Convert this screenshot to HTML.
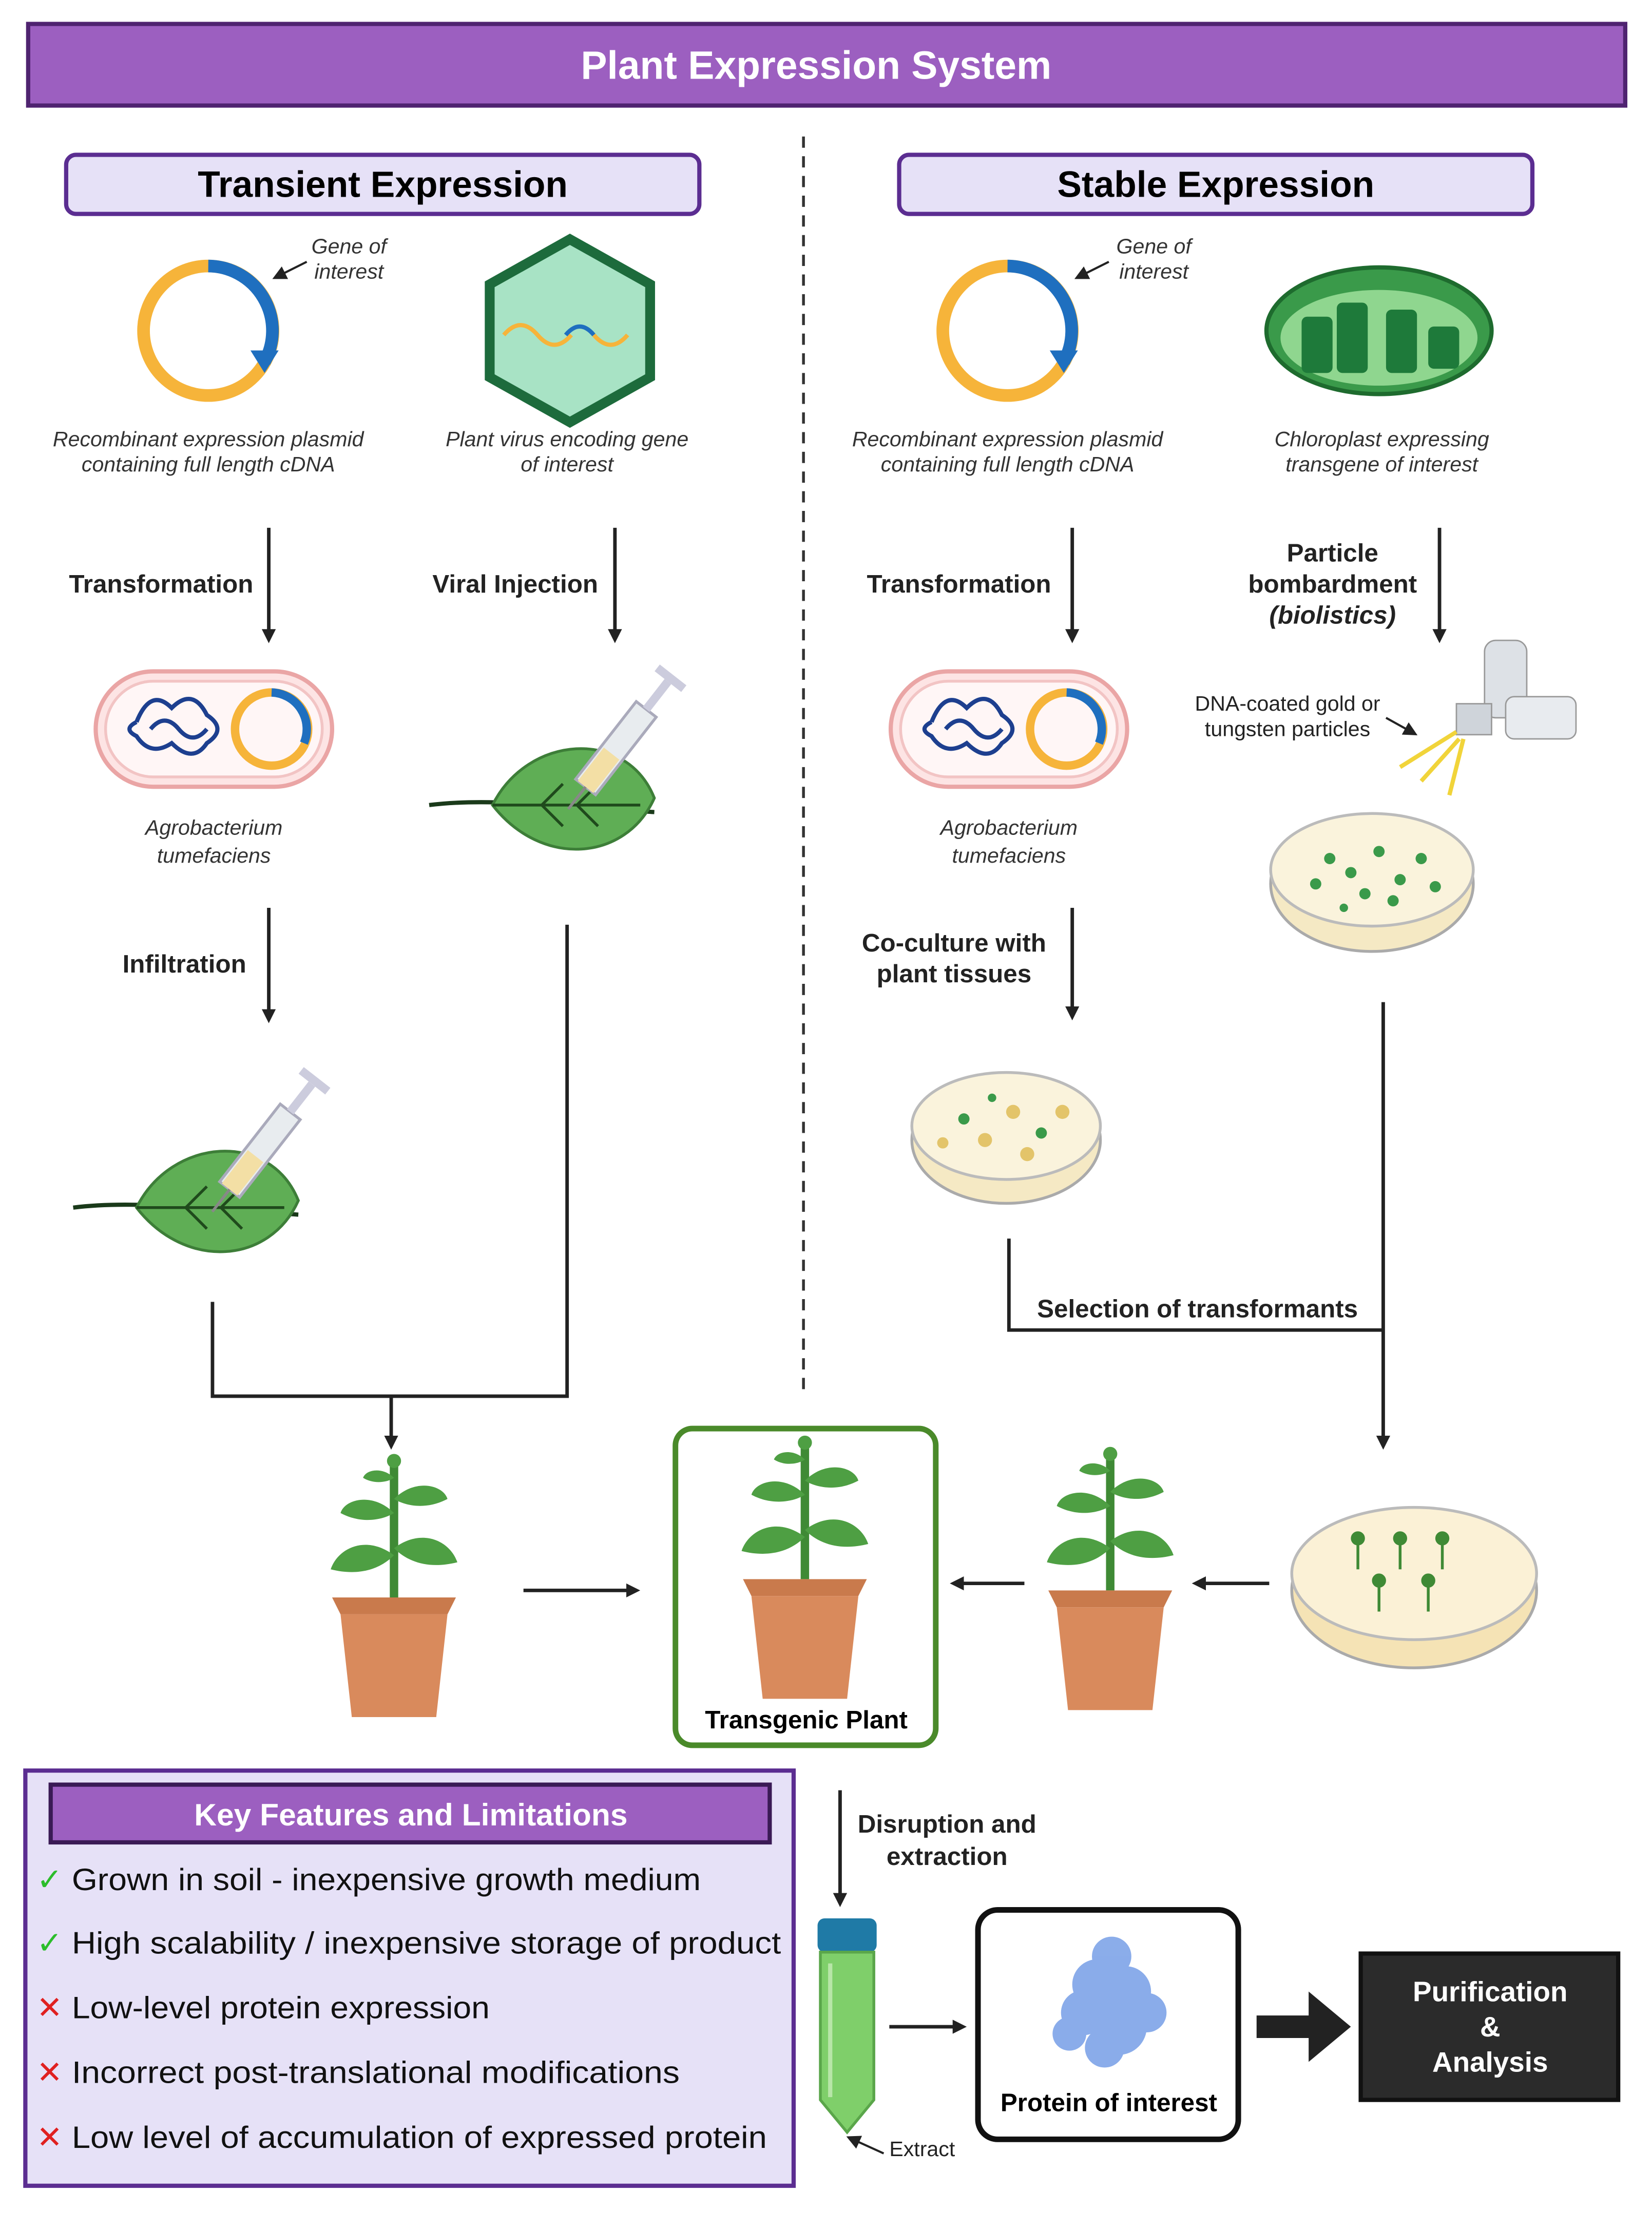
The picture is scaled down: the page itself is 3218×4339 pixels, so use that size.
<!DOCTYPE html>
<html><head><meta charset="utf-8"><style>html,body{margin:0;padding:0;background:#fff}svg{display:block}text{font-family:"Liberation Sans",sans-serif}</style></head>
<body>
<svg xmlns="http://www.w3.org/2000/svg" width="3218" height="4339" viewBox="0 0 1174 1583">
<defs>
<marker id="ah" markerWidth="10" markerHeight="10" refX="5" refY="5" orient="auto" markerUnits="userSpaceOnUse"><path d="M0,0 L10,5 L0,10 z" fill="#222"/></marker>
<g id="plasmid"><circle r="46" fill="none" stroke="#f6b43a" stroke-width="9"/><path d="M0,-46 A46,46 0 0 1 40,22" fill="none" stroke="#1f6fbf" stroke-width="9"/><path d="M30,14 L50,14 L40,30 z" fill="#1f6fbf"/></g>
<g id="agro"><rect x="-84" y="-41" width="168" height="82" rx="41" fill="#fde4e4" stroke="#eaa5a5" stroke-width="3"/><rect x="-77" y="-34" width="154" height="68" rx="34" fill="#fff6f6" stroke="#f2c4c4" stroke-width="2"/><circle cx="41" cy="0" r="26" fill="none" stroke="#f6b43a" stroke-width="6"/><path d="M41,-26 A26,26 0 0 1 64,10" fill="none" stroke="#1f6fbf" stroke-width="6"/><path d="M-55,-5 q10,-25 25,-10 q15,-15 25,5 q15,10 0,20 q-10,15 -25,0 q-15,10 -25,-5 q-10,-5 0,-10" fill="none" stroke="#1d3f8f" stroke-width="3"/><path d="M-45,0 q10,-12 20,0 q10,12 20,0" fill="none" stroke="#1d3f8f" stroke-width="3"/></g>
<g id="leafsyr"><path d="M-80,0 C-40,-5 0,0 80,5" stroke="#1a3a1a" stroke-width="3" fill="none"/><path d="M-35,0 C-10,-50 60,-55 80,-5 C60,40 0,45 -35,0 z" fill="#5fae55" stroke="#3d7e38" stroke-width="2"/><path d="M-35,0 L70,0 M0,0 l15,-15 M25,0 l15,-15 M0,0 l15,15 M25,0 l15,15" stroke="#1f4a1c" stroke-width="2" fill="none"/><g transform="translate(25,-5) rotate(-52)"><rect x="10" y="-9" width="70" height="18" fill="#e8ecef" stroke="#aab" stroke-width="2"/><rect x="10" y="-7" width="30" height="14" fill="#f3dfa5"/><rect x="80" y="-3" width="25" height="6" fill="#ccd"/><rect x="105" y="-12" width="6" height="24" fill="#ccd"/><line x1="-10" y1="0" x2="10" y2="0" stroke="#888" stroke-width="2"/></g></g>
<g id="plant"><path d="M0,0 L0,-95" stroke="#3f8a35" stroke-width="6"/><path d="M0,-30 c-20,-15 -40,-5 -45,10 c20,5 35,0 45,-10z M0,-35 c20,-15 40,-5 45,10 c-20,5 -35,0 -45,-10z M0,-60 c-15,-15 -35,-10 -38,0 c15,8 30,5 38,0z M0,-70 c15,-15 35,-10 38,0 c-15,8 -30,5 -38,0z M0,-85 c-8,-8 -20,-6 -22,0 c8,5 18,3 22,0z" fill="#4e9f43"/><circle cx="0" cy="-97" r="5" fill="#4e9f43"/><path d="M-44,0 L44,0 L38,12 L-38,12z" fill="#c97a4c"/><path d="M-38,12 L38,12 L30,85 L-30,85z" fill="#d98a5c"/></g>
</defs>

<rect x="20" y="17" width="1135" height="58" fill="#9c5fc0" stroke="#4f2370" stroke-width="3"/>
<text x="580" y="56" font-size="28" font-weight="bold" fill="#fff" text-anchor="middle">Plant Expression System</text>
<line x1="571" y1="97" x2="571" y2="990" stroke="#333" stroke-width="2" stroke-dasharray="8,6"/>

<rect x="47" y="110" width="450" height="42" rx="7" fill="#e6e1f7" stroke="#5b2d91" stroke-width="3"/>
<text x="272" y="140" font-size="26" font-weight="bold" text-anchor="middle">Transient Expression</text>
<rect x="639" y="110" width="450" height="42" rx="7" fill="#e6e1f7" stroke="#5b2d91" stroke-width="3"/>
<text x="864" y="140" font-size="26" font-weight="bold" text-anchor="middle">Stable Expression</text>

<g font-style="italic" font-size="15" fill="#333" text-anchor="middle">
<use href="#plasmid" x="148" y="235"/><use href="#plasmid" x="716" y="235"/>
<text x="248" y="180">Gene of</text><text x="248" y="198">interest</text>
<text x="820" y="180">Gene of</text><text x="820" y="198">interest</text>
<path d="M218,186 L198,196" stroke="#222" stroke-width="1.5" marker-end="url(#ah)"/>
<path d="M788,186 L768,196" stroke="#222" stroke-width="1.5" marker-end="url(#ah)"/>
<polygon points="405,170 462,202 462,268 405,300 348,268 348,202" fill="#a8e3c5" stroke="#1d6b3c" stroke-width="7"/>
<path d="M358,238 q12,-14 24,0 q12,14 24,0" stroke="#f6b43a" stroke-width="3" fill="none"/><path d="M402,238 q10,-12 20,0" stroke="#1f6fbf" stroke-width="3" fill="none"/><path d="M422,238 q12,14 24,0" stroke="#f6b43a" stroke-width="3" fill="none"/>
<ellipse cx="980" cy="235" rx="80" ry="45" fill="#3a9a4a" stroke="#1e6b2e" stroke-width="3"/><ellipse cx="980" cy="240" rx="70" ry="34" fill="#8fd68f"/>
<g fill="#1e7a3a"><rect x="925" y="225" width="22" height="40" rx="4"/><rect x="950" y="215" width="22" height="50" rx="4"/><rect x="985" y="220" width="22" height="45" rx="4"/><rect x="1015" y="232" width="22" height="30" rx="4"/></g>
<text x="148" y="317">Recombinant expression plasmid</text><text x="148" y="335">containing full length cDNA</text>
<text x="403" y="317">Plant virus encoding gene</text><text x="403" y="335">of interest</text>
<text x="716" y="317">Recombinant expression plasmid</text><text x="716" y="335">containing full length cDNA</text>
<text x="982" y="317">Chloroplast expressing</text><text x="982" y="335">transgene of interest</text>
<text x="152" y="593">Agrobacterium</text><text x="152" y="613">tumefaciens</text>
<text x="717" y="593">Agrobacterium</text><text x="717" y="613">tumefaciens</text>
</g>

<g stroke="#222" stroke-width="2.5" fill="none" marker-end="url(#ah)">
<line x1="191" y1="375" x2="191" y2="452"/><line x1="437" y1="375" x2="437" y2="452"/>
<line x1="762" y1="375" x2="762" y2="452"/><line x1="1023" y1="375" x2="1023" y2="452"/>
<line x1="191" y1="645" x2="191" y2="722"/><line x1="762" y1="645" x2="762" y2="720"/>
<line x1="278" y1="992" x2="278" y2="1025"/><line x1="983" y1="712" x2="983" y2="1025"/>
<line x1="372" y1="1130" x2="450" y2="1130"/><line x1="728" y1="1125" x2="680" y2="1125"/><line x1="902" y1="1125" x2="852" y2="1125"/>
<line x1="597" y1="1272" x2="597" y2="1350"/><line x1="632" y1="1440" x2="682" y2="1440"/>
</g>
<g stroke="#222" stroke-width="2.5" fill="none">
<path d="M151,925 L151,992 L403,992 L403,657"/>
<path d="M717,880 L717,945 L983,945"/>
</g>

<g font-size="18" font-weight="bold" fill="#222">
<text x="180" y="421" text-anchor="end">Transformation</text>
<text x="425" y="421" text-anchor="end">Viral Injection</text>
<text x="747" y="421" text-anchor="end">Transformation</text>
<text x="947" y="399" text-anchor="middle">Particle</text><text x="947" y="421" text-anchor="middle">bombardment</text><text x="947" y="443" text-anchor="middle" font-style="italic">(biolistics)</text>
<text x="175" y="691" text-anchor="end">Infiltration</text>
<text x="678" y="676" text-anchor="middle">Co-culture with</text><text x="678" y="698" text-anchor="middle">plant tissues</text>
<text x="851" y="936" text-anchor="middle">Selection of transformants</text>
<text x="673" y="1302" text-anchor="middle">Disruption and</text><text x="673" y="1325" text-anchor="middle">extraction</text>
</g>

<use href="#agro" x="152" y="518"/><use href="#agro" x="717" y="518"/>
<use href="#leafsyr" x="385" y="572"/><use href="#leafsyr" x="132" y="858"/>

<g transform="translate(1070,495)"><rect x="-15" y="-40" width="30" height="55" rx="8" fill="#dde1e6" stroke="#999"/><rect x="0" y="0" width="50" height="30" rx="6" fill="#e8ebef" stroke="#999"/><rect x="-35" y="5" width="25" height="22" fill="#cfd4da" stroke="#999"/><path d="M-35,25 L-75,50 M-33,30 L-60,60 M-30,30 L-40,70" stroke="#f1d43a" stroke-width="3"/></g>
<text x="915" y="505" font-size="15" text-anchor="middle" fill="#222">DNA-coated gold or</text>
<text x="915" y="523" font-size="15" text-anchor="middle" fill="#222">tungsten particles</text>
<path d="M985,510 L1003,520" stroke="#222" stroke-width="1.5" marker-end="url(#ah)"/>

<g>
<ellipse cx="975" cy="628" rx="72" ry="48" fill="#f5e9c4" stroke="#aaa" stroke-width="2"/><ellipse cx="975" cy="618" rx="72" ry="40" fill="#faf3dc" stroke="#bbb" stroke-width="2"/>
<g fill="#3a9a4a"><circle cx="945" cy="610" r="4"/><circle cx="960" cy="620" r="4"/><circle cx="980" cy="605" r="4"/><circle cx="995" cy="625" r="4"/><circle cx="1010" cy="610" r="4"/><circle cx="970" cy="635" r="4"/><circle cx="1020" cy="630" r="4"/><circle cx="935" cy="628" r="4"/><circle cx="990" cy="640" r="4"/><circle cx="955" cy="645" r="3"/></g>
<ellipse cx="715" cy="810" rx="67" ry="45" fill="#f5e9c4" stroke="#aaa" stroke-width="2"/><ellipse cx="715" cy="800" rx="67" ry="38" fill="#faf3dc" stroke="#bbb" stroke-width="2"/>
<g><circle cx="685" cy="795" r="4" fill="#3a9a4a"/><circle cx="700" cy="810" r="5" fill="#e3c46a"/><circle cx="720" cy="790" r="5" fill="#e3c46a"/><circle cx="740" cy="805" r="4" fill="#3a9a4a"/><circle cx="755" cy="790" r="5" fill="#e3c46a"/><circle cx="670" cy="812" r="4" fill="#e3c46a"/><circle cx="730" cy="820" r="5" fill="#e3c46a"/><circle cx="705" cy="780" r="3" fill="#3a9a4a"/></g>
<ellipse cx="1005" cy="1130" rx="87" ry="55" fill="#f5e3b5" stroke="#aaa" stroke-width="2"/><ellipse cx="1005" cy="1118" rx="87" ry="47" fill="#fbf1d6" stroke="#bbb" stroke-width="2"/>
<g stroke="#3f8a35" stroke-width="2" fill="#3f8a35"><path d="M965,1115 v-20 M995,1115 v-20 M1025,1115 v-20 M980,1145 v-20 M1015,1145 v-20"/><circle cx="965" cy="1093" r="4"/><circle cx="995" cy="1093" r="4"/><circle cx="1025" cy="1093" r="4"/><circle cx="980" cy="1123" r="4"/><circle cx="1015" cy="1123" r="4"/></g>
</g>

<use href="#plant" x="280" y="1135"/>
<rect x="480" y="1015" width="185" height="225" rx="12" fill="#fff" stroke="#4a8a2a" stroke-width="4"/>
<use href="#plant" x="572" y="1122"/>
<text x="573" y="1228" font-size="18" font-weight="bold" text-anchor="middle">Transgenic Plant</text>
<use href="#plant" x="789" y="1130"/>

<rect x="18" y="1258" width="546" height="295" fill="#e6e1f7" stroke="#5b2d91" stroke-width="3"/>
<rect x="36" y="1268" width="511" height="41" fill="#9c5fc0" stroke="#3a1a55" stroke-width="3"/>
<text x="138" y="1297" font-size="22" font-weight="bold" fill="#fff" textLength="308" lengthAdjust="spacingAndGlyphs">Key Features and Limitations</text>
<g font-size="22" fill="#111">
<text x="26" y="1343" fill="#2bbd2b">✓</text><text x="51" y="1343" textLength="447" lengthAdjust="spacingAndGlyphs">Grown in soil - inexpensive growth medium</text>
<text x="26" y="1388" fill="#2bbd2b">✓</text><text x="51" y="1388" textLength="504" lengthAdjust="spacingAndGlyphs">High scalability / inexpensive storage of product</text>
<text x="26" y="1434" fill="#e02020">✕</text><text x="51" y="1434" textLength="297" lengthAdjust="spacingAndGlyphs">Low-level protein expression</text>
<text x="26" y="1480" fill="#e02020">✕</text><text x="51" y="1480" textLength="432" lengthAdjust="spacingAndGlyphs">Incorrect post-translational modifications</text>
<text x="26" y="1526" fill="#e02020">✕</text><text x="51" y="1526" textLength="494" lengthAdjust="spacingAndGlyphs">Low level of accumulation of expressed protein</text>
</g>

<rect x="581" y="1363" width="42" height="24" rx="5" fill="#1f7aa6"/>
<path d="M583,1387 L621,1387 L621,1492 L602,1515 L583,1492z" fill="#7fcf6a" stroke="#5aa64a" stroke-width="2"/>
<path d="M590,1395 v95" stroke="#b8e6a8" stroke-width="3"/>
<text x="632" y="1532" font-size="15" fill="#222">Extract</text>
<path d="M628,1530 L606,1520" stroke="#222" stroke-width="1.5" marker-end="url(#ah)"/>

<rect x="695" y="1357" width="185" height="163" rx="14" fill="#fff" stroke="#111" stroke-width="4"/>
<g fill="#7ea4e8" opacity="0.9"><circle cx="790" cy="1390" r="14"/><circle cx="780" cy="1410" r="18"/><circle cx="800" cy="1415" r="18"/><circle cx="770" cy="1430" r="16"/><circle cx="795" cy="1440" r="20"/><circle cx="815" cy="1430" r="14"/><circle cx="760" cy="1445" r="12"/><circle cx="785" cy="1455" r="14"/></g>
<text x="788" y="1500" font-size="18" font-weight="bold" text-anchor="middle">Protein of interest</text>

<path d="M893,1432 L930,1432 L930,1415 L960,1440 L930,1465 L930,1448 L893,1448z" fill="#222"/>
<rect x="967" y="1388" width="183" height="104" fill="#2b2b2b" stroke="#111" stroke-width="3"/>
<g font-size="20" font-weight="bold" fill="#fff" text-anchor="middle"><text x="1059" y="1422">Purification</text><text x="1059" y="1447">&amp;</text><text x="1059" y="1472">Analysis</text></g>
</svg>
</body></html>
